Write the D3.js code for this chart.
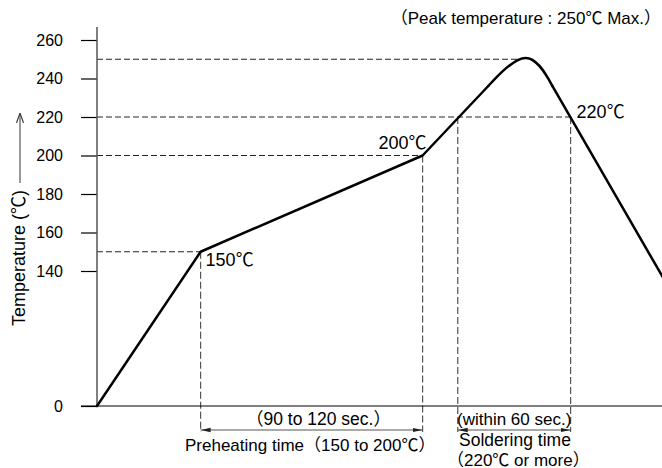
<!DOCTYPE html>
<html><head><meta charset="utf-8">
<script src="https://cdn.jsdelivr.net/npm/d3@7"></script>
<style>
body{margin:0;background:#fff}
svg{display:block}
text{font-family:"Liberation Sans",Arial,"Noto Sans CJK JP",sans-serif;fill:#000}
</style></head><body>
<svg id="chart" width="662" height="468"></svg>
<script>
// ---- data ----
const yTickValues = [0, 140, 160, 180, 200, 220, 240, 260];
// profile: straight ramps, rounded peak (control points), straight cooling
const rampTime = [0, 56, 176, 211.5];
const rampTemp = [0, 150, 200, 236.1];
const peakTime = [211.5, 233.1, 246.2];
const peakTemp = [236.1, 258.0, 236.1];
const coolTime = [246.2, 306];
const coolTemp = [236.1, 133];
const guideTemps = [250, 220, 200, 150];
const guideEndTimes = [228, 256, 176, 56];
const dropTimes = [56, 176, 195, 256];
const dropTemps = [150, 200, 220, 220];
const spanStarts = [56, 195];
const spanEnds = [176, 256];
const pointLabels = ["150℃", "200℃", "220℃"];

const svg = d3.select("#chart");
const x = d3.scaleLinear().domain([0, 305]).range([97, 661.25]);
const y = d3.scaleLinear().domain([0, 140, 260]).range([406, 271, 40]);

const defs = svg.append("defs");
defs.append("marker").attr("id","ah").attr("viewBox","0 0 10 6").attr("refX",10).attr("refY",3)
  .attr("markerWidth",10).attr("markerHeight",6).attr("markerUnits","userSpaceOnUse").attr("orient","auto-start-reverse")
  .append("path").attr("d","M0,0.8L10,3L0,5.2Z").attr("fill","#222");
defs.append("marker").attr("id","ah2").attr("viewBox","0 0 10 8").attr("refX",10).attr("refY",4)
  .attr("markerWidth",10).attr("markerHeight",8).attr("markerUnits","userSpaceOnUse").attr("orient","auto")
  .append("path").attr("d","M0,0.5L10,4L0,7.5").attr("fill","none").attr("stroke","#444").attr("stroke-width",1.2);

// horizontal guide lines
svg.append("g").selectAll("line").data(guideTemps).join("line")
  .attr("x1", x(0)).attr("x2", (d,i)=>x(guideEndTimes[i]))
  .attr("y1", d=>y(d)).attr("y2", d=>y(d))
  .attr("stroke","#222").attr("stroke-width",1).attr("stroke-dasharray","6,3");

// vertical drops
svg.append("g").selectAll("line").data(dropTimes).join("line")
  .attr("x1", d=>x(d)).attr("x2", d=>x(d))
  .attr("y1", (d,i)=>y(dropTemps[i])).attr("y2", 432)
  .attr("stroke","#555").attr("stroke-width",1.2).attr("stroke-dasharray","7,3");

// axes
const yAxis = d3.axisLeft(y).tickValues(yTickValues).tickSize(16).tickPadding(18);
const gy = svg.append("g").attr("transform", `translate(${x(0)},0)`).call(yAxis);
gy.select(".domain").remove();
gy.selectAll(".tick line").attr("stroke","#000").attr("stroke-width",1.2);
gy.selectAll(".tick text").attr("font-size",16).attr("font-family",null).attr("fill","#000");
svg.append("line").attr("x1",x(0)).attr("x2",x(0)).attr("y1",27).attr("y2",y(0))
  .attr("stroke","#555").attr("stroke-width",1.5);
svg.append("line").attr("x1",81).attr("x2",662).attr("y1",y(0)).attr("y2",y(0))
  .attr("stroke","#000").attr("stroke-width",1.2);

// profile
const lin = d3.line().x(d=>x(d[0])).y(d=>y(d[1]));
const bas = d3.line().x(d=>x(d[0])).y(d=>y(d[1])).curve(d3.curveBasis);
const segs = [
  [d3.zip(rampTime, rampTemp), lin],
  [d3.zip(peakTime, peakTemp), bas],
  [d3.zip(coolTime, coolTemp), lin]
];
svg.append("g").selectAll("path").data(segs).join("path")
  .attr("d", d=>d[1](d[0])).attr("fill","none")
  .attr("stroke","#000").attr("stroke-width",2.5).attr("stroke-linejoin","round").attr("stroke-linecap","round");

// span arrows
svg.append("g").selectAll("line").data(spanStarts).join("line")
  .attr("x1", d=>x(d)).attr("x2",(d,i)=>x(spanEnds[i]))
  .attr("y1",430).attr("y2",430).attr("stroke","#555").attr("stroke-width",1.2)
  .attr("marker-start","url(#ah)").attr("marker-end","url(#ah)");
svg.append("text").attr("x",246).attr("y",425).attr("font-size",17.5).text("（90 to 120 sec.）");
svg.append("text").attr("x",457).attr("y",425).attr("font-size",17).text("(within 60 sec.)");

// bottom captions
svg.append("text").attr("x",185).attr("y",451).attr("font-size",17).text("Preheating time（150 to 200℃）");
svg.append("text").attr("x",459).attr("y",445.5).attr("font-size",17.5).text("Soldering time");
svg.append("text").attr("x",447).attr("y",465.5).attr("font-size",17).text("（220℃ or more）");

// point labels
svg.append("text").attr("x",x(dropTimes[0])+5).attr("y",y(dropTemps[0])+14)
  .attr("font-size",18).text(pointLabels[0]);
svg.append("text").attr("x",x(dropTimes[1])+4).attr("y",y(dropTemps[1])-7)
  .attr("text-anchor","end").attr("font-size",18).text(pointLabels[1]);
svg.append("text").attr("x",x(dropTimes[3])+6).attr("y",y(dropTemps[3])+1)
  .attr("font-size",18).text(pointLabels[2]);

// peak note
svg.append("text").attr("x",661).attr("y",24).attr("text-anchor","end")
  .attr("font-size",17).text("（Peak temperature : 250℃ Max.）");

// y axis title with arrow
svg.append("text").attr("transform","translate(25,258) rotate(-90)").attr("text-anchor","middle")
  .attr("font-size",18).text("Temperature (℃)");
svg.append("line").attr("x1",20).attr("x2",20).attr("y1",183).attr("y2",113)
  .attr("stroke","#555").attr("stroke-width",1.2).attr("marker-end","url(#ah2)");
</script>
</body></html>
